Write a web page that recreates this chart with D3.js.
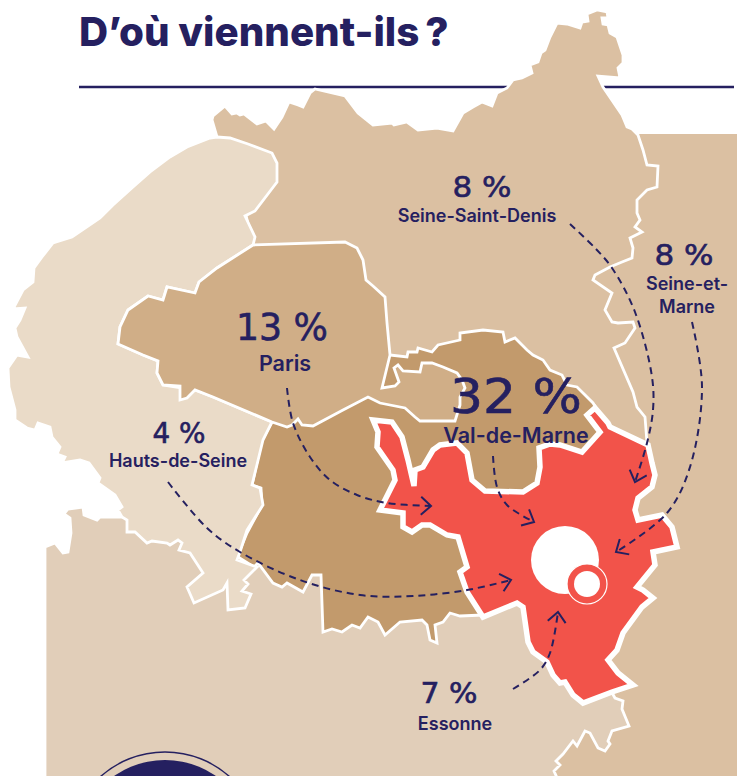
<!DOCTYPE html>
<html>
<head>
<meta charset="utf-8">
<script src="https://cdn.jsdelivr.net/npm/d3@7"></script>
<style>
html, body { margin: 0; padding: 0; background: #fff; }
svg { display: block; }
</style>
</head>
<body>
<div id="map"></div>
<script>
// values
var regionNames = ["Paris", "Val-de-Marne", "Seine-Saint-Denis", "Seine-et-Marne", "Hauts-de-Seine", "Essonne"];
var regionShares = [13, 32, 8, 8, 4, 7];
var chartTitle = "D\u2019o\u00f9 viennent-ils\u2009?";

// map outlines
var outlineMarneBand = [[600,134],[737,134],[737,780],[520,780],[520,500]];
var outlineEssonne = [[45,780],[45,547],[55,543],[63,553],[68,552],[71,533],[70,518],[64,514],[68,509],[83,507],[84,515],[97,520],[100,517],[120,517],[300,500],[560,600],[615,698],[623,701],[622,709],[629,726],[612,731],[608,741],[610,744],[605,751],[598,748],[590,733],[585,731],[577,746],[573,741],[563,754],[556,761],[560,765],[554,771],[558,780]];
var outlineSaintDenis = [[217,137],[212,120],[213,116],[225,106],[232,114],[237,113],[240,115],[244,114],[257,124],[266,121],[274,129],[282,117],[289,102],[298,105],[303,107],[310,93],[315,89],[345,96],[358,113],[373,125],[392,123],[394,125],[407,122],[418,130],[437,128],[453,131],[463,113],[473,107],[482,102],[492,106],[497,93],[507,88],[513,80],[522,78],[532,73],[530,65],[538,62],[541,53],[545,50],[550,37],[557,23],[567,24],[580,28],[582,22],[588,21],[587,14],[597,10],[607,12],[608,18],[602,18],[603,24],[608,25],[610,33],[617,37],[623,55],[623,63],[618,68],[620,78],[598,76],[603,87],[622,115],[627,127],[632,129],[638,135],[643,150],[647,165],[658,166],[657,187],[647,190],[637,200],[637,213],[640,220],[635,227],[642,232],[630,238],[633,248],[632,258],[622,262],[610,267],[595,275],[593,280],[612,293],[605,310],[612,322],[618,323],[633,322],[635,328],[625,343],[614,348],[633,392],[637,407],[645,417],[647,443],[600,470],[500,440],[330,350],[253,245],[240,190]];
var outlineValDeMarne = [[272,422],[262,440],[252,485],[261,488],[262,505],[247,533],[240,550],[238,557],[254,567],[258,563],[273,583],[282,587],[287,583],[303,592],[312,575],[321,575],[323,632],[332,629],[342,632],[352,625],[360,628],[368,617],[378,622],[385,635],[400,622],[422,620],[427,625],[430,640],[437,643],[435,625],[443,622],[450,613],[460,616],[483,615],[560,540],[610,430],[593,403],[577,387],[567,385],[562,375],[550,370],[543,360],[533,355],[527,350],[515,338],[505,342],[503,332],[483,330],[460,333],[460,340],[438,345],[432,352],[418,348],[417,352],[408,352],[407,357],[390,355],[300,380]];
var outlineHauts = [[217,137],[210,138],[187,147],[170,157],[150,172],[133,187],[113,205],[100,218],[72,237],[53,243],[42,257],[34,268],[33,282],[23,290],[13,309],[25,308],[20,320],[15,328],[17,337],[28,357],[17,355],[8,368],[9,387],[15,410],[15,420],[27,428],[35,430],[38,423],[50,427],[52,437],[60,447],[57,454],[65,457],[62,463],[80,460],[89,463],[100,478],[98,483],[115,495],[122,507],[118,510],[122,517],[127,520],[127,532],[135,532],[147,543],[152,541],[167,543],[170,545],[178,540],[182,543],[179,550],[190,553],[203,573],[187,587],[194,603],[223,590],[227,583],[228,610],[245,608],[251,594],[242,591],[248,584],[244,580],[257,567],[237,560],[240,552],[247,530],[263,505],[260,488],[252,485],[263,440],[272,422],[213,397],[195,390],[163,385],[157,373],[158,361],[143,355],[118,344],[120,327],[128,310],[148,296],[163,300],[167,287],[195,293],[199,282],[217,268],[253,245],[255,237],[245,216],[255,211],[277,182],[277,163],[272,153],[248,144],[230,138]];
var outlineParis = [[253,245],[345,242],[357,248],[363,260],[366,280],[373,286],[385,297],[387,323],[390,355],[382,388],[395,386],[399,382],[394,368],[398,365],[403,371],[420,372],[422,363],[432,363],[443,367],[457,373],[462,380],[465,388],[460,397],[460,405],[455,421],[420,421],[415,417],[405,408],[380,403],[368,397],[343,410],[313,426],[302,425],[298,419],[292,425],[287,427],[272,422],[213,397],[195,390],[187,398],[180,400],[180,386],[163,385],[157,373],[158,361],[143,355],[118,344],[120,327],[128,310],[148,296],[163,300],[167,287],[195,293],[199,282],[217,268]];
var outlineRed = [[373,420],[392,422],[402,437],[408,460],[414,486],[415,470],[423,467],[433,450],[440,445],[457,443],[467,453],[472,480],[485,491],[523,492],[537,483],[540,467],[539,448],[550,444],[560,445],[582,452],[600,432],[587,415],[595,408],[608,423],[610,427],[648,445],[652,463],[655,475],[652,487],[638,498],[635,510],[638,520],[662,515],[672,527],[677,547],[653,552],[655,565],[637,587],[643,590],[653,598],[642,607],[623,633],[617,650],[608,660],[618,673],[633,685],[612,692],[583,703],[573,695],[565,682],[560,683],[553,675],[547,662],[533,652],[528,642],[523,607],[517,603],[483,617],[467,592],[460,572],[467,567],[458,537],[447,535],[430,525],[422,525],[412,532],[403,527],[403,513],[380,510],[395,480],[393,470],[377,447],[378,432]];

// dashed flows, from each label to the red area
var flowParis = [[287,388],[293,423],[310,457],[330,480],[357,495],[387,503],[431,506]];
var flowHauts = [[168,482],[207,528],[240,552],[300,580],[360,595],[413,596],[467,590],[511,580]];
var flowValDeMarne = [[493,456],[497,487],[507,505],[534,522]];
var flowSaintDenis = [[570,224],[595,248],[612,268],[635,312],[652,377],[653,410],[647,443],[635,482]];
var flowMarne = [[692,322],[702,387],[690,467],[667,513],[616,552]];
var flowEssonne = [[513,689],[540,670],[550,653],[558,612]];

var navy = "#252060";
var width = 750, height = 776;

var svg = d3.select("#map").append("svg")
    .attr("width", width)
    .attr("height", height);

svg.append("defs").append("marker")
    .attr("id", "head")
    .attr("viewBox", "-12 -10 14 20")
    .attr("refX", 0)
    .attr("refY", 0)
    .attr("markerUnits", "userSpaceOnUse")
    .attr("markerWidth", 14)
    .attr("markerHeight", 20)
    .attr("orient", "auto")
    .append("path")
    .attr("d", "M-10,-9L0,0L-10,9")
    .attr("fill", "none")
    .attr("stroke", navy)
    .attr("stroke-width", 2);

// title and rule go under the map
svg.append("text")
    .attr("x", 79)
    .attr("y", 46)
    .attr("font-family", "Inter")
    .attr("font-weight", 800)
    .attr("font-size", 40.3)
    .attr("fill", navy)
    .text(chartTitle);

svg.append("line")
    .attr("x1", 79).attr("x2", 734)
    .attr("y1", 87).attr("y2", 87)
    .attr("stroke", navy)
    .attr("stroke-width", 2.4);

var path = d3.geoPath().projection(d3.geoIdentity());

function feature(outline) {
    return { type: "Feature", geometry: { type: "Polygon", coordinates: [outline.concat([outline[0]])] } };
}

var layers = [
    { outline: outlineMarneBand, fill: "#DBC0A2", sw: 0 },
    { outline: outlineEssonne, fill: "#E1CEB9", sw: 2.8 },
    { outline: outlineSaintDenis, fill: "#DBC0A2", sw: 2.8 },
    { outline: outlineValDeMarne, fill: "#C29A6C", sw: 2.8 },
    { outline: outlineHauts, fill: "#EADBC8", sw: 2.8 },
    { outline: outlineParis, fill: "#D0AE87", sw: 2.8 },
    { outline: outlineRed, fill: "#F2534A", sw: 5.5 }
];

svg.selectAll("path.area")
    .data(layers)
    .enter()
    .append("path")
    .attr("class", "area")
    .attr("d", function(d) { return path(feature(d.outline)); })
    .attr("fill", function(d) { return d.fill; })
    .attr("stroke", "#fff")
    .attr("stroke-width", function(d) { return d.sw; })
    .attr("stroke-linejoin", "miter")
    .attr("stroke-miterlimit", 5);

// big dot + ringed dot on the red area
svg.append("circle").attr("cx", 565).attr("cy", 560).attr("r", 34).attr("fill", "#fff");
svg.append("circle").attr("cx", 587).attr("cy", 584).attr("r", 20).attr("fill", "#F2534A").attr("stroke", "#fff").attr("stroke-width", 1.2);
svg.append("circle").attr("cx", 587).attr("cy", 584).attr("r", 13).attr("fill", "#fff");

// badge cut off by the bottom of the page
svg.append("circle").attr("cx", 165).attr("cy", 849).attr("r", 97).attr("fill", "none").attr("stroke", navy).attr("stroke-width", 1.5);
svg.append("circle").attr("cx", 165).attr("cy", 849).attr("r", 89).attr("fill", navy);

var line = d3.line().curve(d3.curveCatmullRom.alpha(0.5));

svg.selectAll("path.flow")
    .data([flowParis, flowHauts, flowValDeMarne, flowSaintDenis, flowMarne, flowEssonne])
    .enter()
    .append("path")
    .attr("class", "flow")
    .attr("d", line)
    .attr("fill", "none")
    .attr("stroke", navy)
    .attr("stroke-width", 2)
    .attr("stroke-dasharray", "7,5")
    .attr("marker-end", "url(#head)");

// label placement, same order as regionNames
var labelPlace = [
    { pctX: 282, pctY: 340, pctSize: 37, pctLen: 92, nameX: 285, nameY: 371, nameSize: 21.5, lines: ["Paris"] },
    { pctX: 516, pctY: 413, pctSize: 48, pctLen: 132, nameX: 516, nameY: 443, nameSize: 21.5, lines: ["Val-de-Marne"] },
    { pctX: 482, pctY: 197, pctSize: 29, pctLen: 59, nameX: 477, nameY: 222, nameSize: 18, lines: ["Seine-Saint-Denis"] },
    { pctX: 684, pctY: 265, pctSize: 29, pctLen: 59, nameX: 687, nameY: 290, nameSize: 18, lines: ["Seine-et-", "Marne"] },
    { pctX: 179, pctY: 443, pctSize: 29, pctLen: 53, nameX: 178, nameY: 467, nameSize: 18, lines: ["Hauts-de-Seine"] },
    { pctX: 449, pctY: 703, pctSize: 29, pctLen: 57, nameX: 455, nameY: 730, nameSize: 18, lines: ["Essonne"] }
];

regionNames.forEach(function(name, i) {
    var p = labelPlace[i];
    svg.append("text")
        .attr("x", p.pctX)
        .attr("y", p.pctY)
        .attr("text-anchor", "middle")
        .attr("font-family", "DejaVu Sans")
        .attr("font-size", p.pctSize)
        .attr("textLength", p.pctLen)
        .attr("lengthAdjust", "spacingAndGlyphs")
        .attr("fill", navy)
        .attr("stroke", navy)
        .attr("stroke-width", 0.6)
        .text(regionShares[i] + " %");

    p.lines.forEach(function(l, k) {
        svg.append("text")
            .attr("x", p.nameX)
            .attr("y", p.nameY + k * 23)
            .attr("text-anchor", "middle")
            .attr("font-family", "Inter")
            .attr("font-weight", 600)
            .attr("font-size", p.nameSize)
            .attr("fill", navy)
            .text(l);
    });
});
</script>
</body>
</html>
